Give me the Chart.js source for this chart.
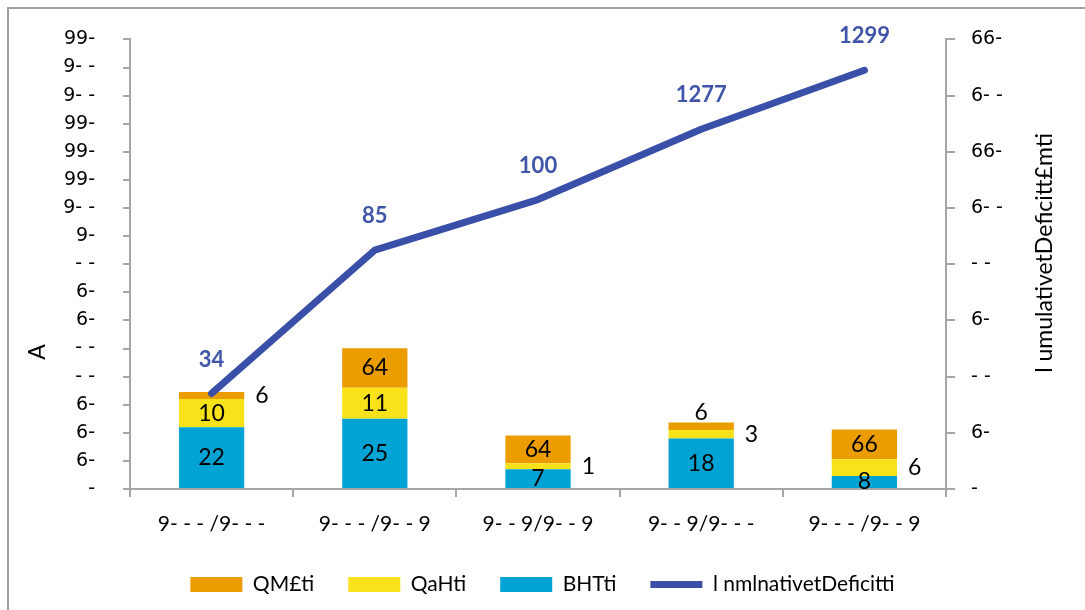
<!DOCTYPE html>
<html>
<head>
<meta charset="utf-8">
<script src="https://cdn.jsdelivr.net/npm/chart.js@4.4.1/dist/chart.umd.min.js"></script>
<style>
  html, body { margin: 0; padding: 0; background: #ffffff; }
  body { width: 1085px; height: 610px; position: relative; overflow: hidden; }
  #frame { position: absolute; left: 7px; top: 7px; width: 1200px; height: 700px;
           border-left: 2px solid #a0a0a0; border-top: 2px solid #a0a0a0; }
  #wrap { position: absolute; left: 0; top: 0; width: 1085px; height: 610px; }
</style>
</head>
<body>
<div id="frame"></div>
<div id="wrap"><canvas id="chart" width="1085" height="610"></canvas></div>
<script>
// Categories along the bottom axis
const categories = ['9- - - /9- - -', '9- - - /9- - 9', '9- - 9/9- - 9', '9- - 9/9- - -', '9- - - /9- - 9'];

// Stacked bar series (left axis)
const bhtValues = [22, 25, 7, 18, 4.6];
const qahValues = [10, 11, 2.2, 3, 6];
const qmValues = [2.5, 14.1, 9.8, 2.7, 10.6];

// Cumulative line (right axis)
const cumulativeValues = [34, 85, 103, 128, 149];

// Text printed on the marks
const bhtLabels = ['22', '25', '7', '18', '8'];
const qahLabels = ['10', '11', '1', '3', '6'];
const qmLabels = ['6', '64', '64', '6', '66'];
const cumulativeLabels = ['34', '85', '100', '1277', '1299'];

// Tick labels, listed from the bottom of each axis upward
const leftTickLabels = ['-', '6-', '6-', '6-', '- -', '- -', '6-', '6-', '- -', '9-', '9- -', '99-', '99-', '99-', '9- -', '9- -', '99-'];
const rightTickLabels = ['-', '6-', '- -', '6-', '- -', '6- -', '66-', '6- -', '66-'];

// Series names
const seriesNames = ['BHTti', 'QaHti', 'QM£ti', 'l nmlnativetDeficitti'];
const leftAxisTitle = 'A';
const rightAxisTitle = 'l umulativetDeficitt£mti';

// Where each bar label sits relative to its segment
const bhtPlace = ['center', 'center', 'center', 'center', 'center'];
const qahPlace = ['center', 'center', 'right', 'right', 'right'];
const qmPlace = ['right', 'center', 'center', 'top', 'center'];

const COLORS = { bht: '#00a3d3', qah: '#f8e31a', qm: '#eb9d00', line: '#3a4fa7', axis: '#a6a6a6' };
const FONT = 'Lato, "Open Sans", "DejaVu Sans", sans-serif';
const TICK_FONT = '"DejaVu Sans", sans-serif';
const legendRank = [2, 1, 0, 3];

const barLabelPlugin = {
  id: 'barLabels',
  afterDatasetsDraw(chart) {
    const ctx = chart.ctx;
    ctx.save();
    ctx.font = '23px ' + FONT;
    ctx.fillStyle = '#000';
    ctx.textBaseline = 'middle';
    const sets = [[0, bhtLabels, bhtPlace], [1, qahLabels, qahPlace], [2, qmLabels, qmPlace]];
    sets.forEach(([di, texts, places]) => {
      chart.getDatasetMeta(di).data.forEach((bar, i) => {
        const p = bar.getProps(['x', 'y', 'base', 'width'], true);
        const mid = (p.y + p.base) / 2;
        let tx = p.x, ty = mid;
        ctx.textAlign = 'center';
        if (places[i] === 'right') { tx = p.x + p.width / 2 + 11; ctx.textAlign = 'left'; }
        else if (places[i] === 'top') { ty = p.y - 10; }
        ctx.fillText(texts[i], tx, ty);
      });
    });
    // cumulative labels above the line points
    ctx.font = 'bold 22px ' + FONT;
    ctx.fillStyle = '#4054a8';
    ctx.textAlign = 'center';
    chart.getDatasetMeta(3).data.forEach((pt, i) => {
      ctx.fillText(cumulativeLabels[i], pt.x, pt.y - 34);
    });
    // axis titles
    ctx.font = '23px ' + FONT;
    ctx.fillStyle = '#000';
    ctx.save();
    ctx.translate(38, 352);
    ctx.rotate(-Math.PI / 2);
    ctx.fillText(leftAxisTitle, 0, 0);
    ctx.restore();
    ctx.save();
    ctx.translate(1045, 253);
    ctx.rotate(-Math.PI / 2);
    ctx.fillText(rightAxisTitle, 0, 0);
    ctx.restore();
    ctx.restore();
  }
};

new Chart(document.getElementById('chart'), {
  data: {
    labels: categories,
    datasets: [
      { type: 'bar', label: seriesNames[0], data: bhtValues, backgroundColor: COLORS.bht, yAxisID: 'y', stack: 's', order: 2, pointStyle: 'rect' },
      { type: 'bar', label: seriesNames[1], data: qahValues, backgroundColor: COLORS.qah, yAxisID: 'y', stack: 's', order: 2, pointStyle: 'rect' },
      { type: 'bar', label: seriesNames[2], data: qmValues, backgroundColor: COLORS.qm, yAxisID: 'y', stack: 's', order: 2, pointStyle: 'rect' },
      { type: 'line', label: seriesNames[3], data: cumulativeValues, borderColor: COLORS.line, backgroundColor: COLORS.line,
        borderWidth: 7, borderCapStyle: 'round', borderJoinStyle: 'round', pointRadius: 0, tension: 0, yAxisID: 'y1', order: 1, pointStyle: 'line' }
    ]
  },
  options: {
    responsive: false,
    animation: false,
    layout: { padding: { top: 39, left: 0, right: 0, bottom: 5 } },
    datasets: { bar: { categoryPercentage: 1, barPercentage: 0.4, borderWidth: 0 } },
    plugins: {
      tooltip: { enabled: false },
      legend: {
        position: 'bottom',
        labels: {
          usePointStyle: true, pointStyleWidth: 52, boxHeight: 15, padding: 34,
          color: '#000', font: { family: FONT, size: 21 },
          sort: (a, b) => legendRank[a.datasetIndex] - legendRank[b.datasetIndex]
        }
      }
    },
    scales: {
      x: {
        stacked: true,
        grid: { offset: true, drawOnChartArea: false, drawTicks: true, tickLength: 8, color: COLORS.axis, lineWidth: 2 },
        border: { display: true, color: COLORS.axis, width: 2 },
        ticks: { color: '#000', font: { family: FONT, size: 21 }, padding: 15, maxRotation: 0 },
        afterFit(scale) { scale.height = 51; }
      },
      y: {
        position: 'left', stacked: true, min: 0, max: 160,
        grid: { drawOnChartArea: false, drawTicks: true, tickLength: 7, color: COLORS.axis, lineWidth: 2 },
        border: { display: true, color: COLORS.axis, width: 2 },
        ticks: { stepSize: 10, color: '#000', font: { family: TICK_FONT, size: 19 }, padding: 28,
                 callback: (v, i) => leftTickLabels[i] },
        afterFit(scale) { scale.width = 130; }
      },
      y1: {
        position: 'right', min: 0, max: 160,
        grid: { drawOnChartArea: false, drawTicks: true, tickLength: 9, color: COLORS.axis, lineWidth: 2 },
        border: { display: true, color: COLORS.axis, width: 2 },
        ticks: { stepSize: 20, color: '#000', font: { family: TICK_FONT, size: 19 }, padding: 16,
                 callback: (v, i) => rightTickLabels[i] },
        afterFit(scale) { scale.width = 139; }
      }
    }
  },
  plugins: [barLabelPlugin]
});
</script>
</body>
</html>
